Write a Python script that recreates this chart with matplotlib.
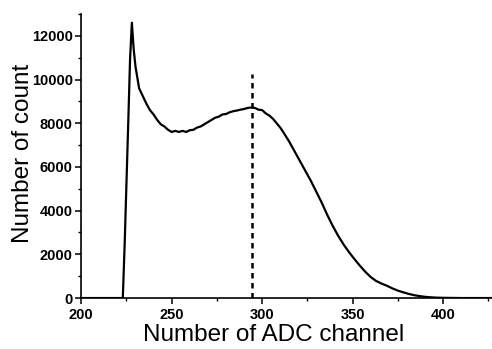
import matplotlib
matplotlib.use("Agg")
import matplotlib.pyplot as plt
from matplotlib.ticker import MultipleLocator

plt.rcParams["font.family"] = ["Liberation Sans", "DejaVu Sans"]

# Spectrum (ADC channel, counts).
channel = [200, 223, 224, 225, 226, 227, 228, 229, 230, 232, 234, 236,
           238, 240, 242, 244, 246, 248, 250, 252, 254, 256, 258, 260, 262,
           264, 266, 268, 270, 272, 274, 276, 278, 280, 282, 284, 286, 288,
           290, 292, 294, 296, 298, 300, 302, 304, 306, 308, 310, 312, 315,
           318, 321, 324, 327, 330, 333, 336, 339, 342, 345, 348, 351, 354,
           357, 360, 363, 366, 369, 372, 375, 378, 381, 384, 387, 390, 393,
           396, 400, 410, 427]
counts = [0, 0, 2400, 5200, 8000, 10900, 12600, 11400, 10600, 9600, 9250,
          8900, 8600, 8400, 8150, 7950, 7850, 7700, 7600, 7650, 7600, 7650,
          7600, 7680, 7700, 7800, 7850, 7950, 8050, 8150, 8250, 8300, 8400,
          8420, 8500, 8550, 8580, 8620, 8650, 8700, 8720, 8700, 8620, 8600,
          8450, 8350, 8200, 8000, 7800, 7550, 7150, 6700, 6250, 5800, 5350,
          4850, 4350, 3800, 3300, 2850, 2450, 2100, 1780, 1480, 1200, 960,
          780, 660, 560, 440, 340, 260, 190, 130, 90, 55, 35, 20, 10, 0, 0]

# dashed marker at the second peak
peak_channel = 294.3
peak_top = 10250

fig = plt.figure(figsize=(4.92, 3.49), dpi=100)
ax = fig.add_axes([0.165, 0.146, 0.835, 0.814])

ax.plot(channel, counts, color="black", lw=1.6)
ax.vlines(peak_channel, 0, peak_top, colors="black", lw=1.8,
          linestyles=(0, (2.2, 1.8)))

ax.set_xlim(200, 427)
ax.set_ylim(0, 13000)
ax.xaxis.set_major_locator(MultipleLocator(50))
ax.xaxis.set_minor_locator(MultipleLocator(25))
ax.yaxis.set_major_locator(MultipleLocator(2000))
ax.yaxis.set_minor_locator(MultipleLocator(1000))

for s in ["top", "right"]:
    ax.spines[s].set_visible(False)
for s in ["left", "bottom"]:
    ax.spines[s].set_linewidth(1.2)

ax.tick_params(which="major", direction="out", length=4, width=1.1,
               labelsize=10.5, pad=2)
ax.tick_params(axis="x", which="major", pad=3)
ax.tick_params(which="minor", direction="out", length=2.5, width=1)
for lab in ax.get_xticklabels() + ax.get_yticklabels():
    lab.set_fontweight("bold")

ax.set_xlabel("Number of ADC channel", fontsize=17.5)
ax.xaxis.set_label_coords(0.468, -0.09)
ax.set_ylabel("Number of count", fontsize=17.5)
ax.yaxis.set_label_coords(-0.115, 0.51)

fig.savefig("out.png", dpi=100)
